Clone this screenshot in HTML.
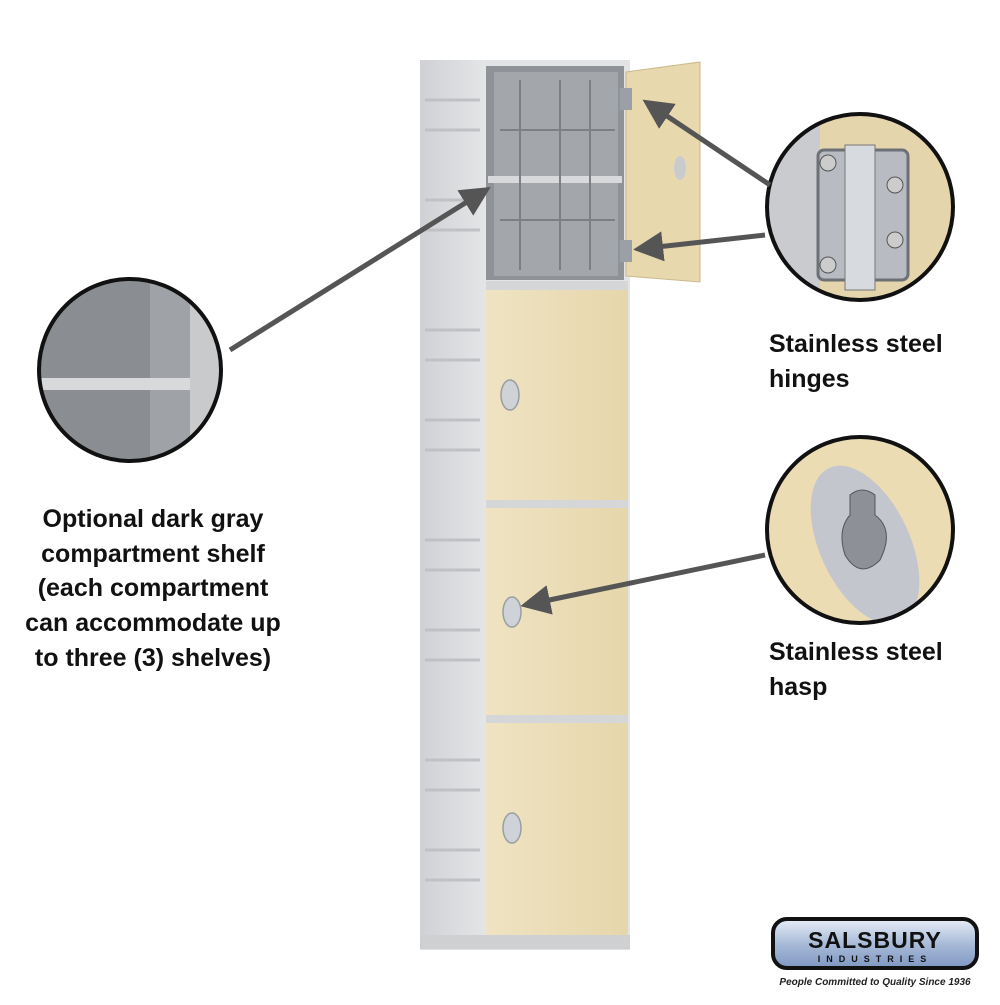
<!DOCTYPE html>
<html><head><meta charset="utf-8"><style>
html,body{margin:0;padding:0;background:#fff}
svg text{font-family:"Liberation Sans",sans-serif;font-weight:bold}
</style></head><body>
<svg width="1000" height="1000" viewBox="0 0 1000 1000" xmlns="http://www.w3.org/2000/svg">
<defs>
<linearGradient id="side" x1="0" x2="1"><stop offset="0" stop-color="#cfd1d4"/><stop offset="1" stop-color="#e4e5e7"/></linearGradient>
<linearGradient id="door" x1="0" x2="1"><stop offset="0" stop-color="#efe3c2"/><stop offset="1" stop-color="#e6d6ab"/></linearGradient>
<linearGradient id="logo" x1="0" y1="0" x2="0" y2="1"><stop offset="0" stop-color="#e8eef8"/><stop offset="0.5" stop-color="#a9bbd8"/><stop offset="1" stop-color="#7f97c2"/></linearGradient>
<marker id="ah" markerWidth="6" markerHeight="6" refX="3" refY="3" orient="auto" markerUnits="strokeWidth"><path d="M0,0 L6,3 L0,6 z" fill="#555"/></marker>
<clipPath id="c1"><circle cx="130" cy="370" r="90"/></clipPath>
<clipPath id="c2"><circle cx="860" cy="207" r="92"/></clipPath>
<clipPath id="c3"><circle cx="860" cy="530" r="92"/></clipPath>
</defs>
<!-- locker -->
<rect x="420" y="60" width="210" height="890" fill="#e2e3e5"/>
<rect x="420" y="60" width="66" height="878" fill="url(#side)"/>
<g stroke="#bfc1c4" stroke-width="3" fill="none">
<path d="M425 100 h55 M425 130 h55 M425 200 h55 M425 230 h55 M425 330 h55 M425 360 h55 M425 420 h55 M425 450 h55 M425 540 h55 M425 570 h55 M425 630 h55 M425 660 h55 M425 760 h55 M425 790 h55 M425 850 h55 M425 880 h55"/>
</g>
<rect x="486" y="66" width="138" height="214" fill="#8f9296"/>
<rect x="494" y="72" width="124" height="204" fill="#a3a6aa"/>
<rect x="488" y="176" width="134" height="7" fill="#d8d9db"/>
<g stroke="#7c7f83" stroke-width="2"><path d="M520 80v190 M560 80v190 M590 80v190 M500 130h115 M500 220h115"/></g>
<rect x="486" y="281" width="142" height="9" fill="#d5d6d8"/>
<rect x="486" y="290" width="142" height="210" fill="url(#door)"/>
<rect x="486" y="500" width="142" height="8" fill="#d5d6d8"/>
<rect x="486" y="508" width="142" height="207" fill="url(#door)"/>
<rect x="486" y="715" width="142" height="8" fill="#d5d6d8"/>
<rect x="486" y="723" width="142" height="212" fill="url(#door)"/>
<rect x="420" y="935" width="210" height="14" fill="#cfd0d2"/>
<g fill="#cfd2d6" stroke="#9a9da1" stroke-width="1.5">
<ellipse cx="510" cy="395" rx="9" ry="15"/><ellipse cx="512" cy="612" rx="9" ry="15"/><ellipse cx="512" cy="828" rx="9" ry="15"/>
</g>
<!-- open door -->
<path d="M626 72 L700 62 L700 282 L626 276 z" fill="#e8d8ae" stroke="#cbb98c"/>
<rect x="620" y="88" width="12" height="22" fill="#9aa0a6"/><rect x="620" y="240" width="12" height="22" fill="#9aa0a6"/>
<ellipse cx="680" cy="168" rx="6" ry="12" fill="#c9cbcf"/>
<!-- circles -->
<g clip-path="url(#c1)"><rect x="30" y="270" width="200" height="200" fill="#6f7276"/>
<rect x="40" y="270" width="190" height="200" fill="#8a8d91"/><rect x="150" y="280" width="40" height="190" fill="#9fa2a6"/>
<rect x="30" y="378" width="200" height="12" fill="#d8d9db"/><rect x="190" y="270" width="40" height="200" fill="#c9cacc"/></g>
<circle cx="130" cy="370" r="91" fill="none" stroke="#111" stroke-width="4"/>
<g clip-path="url(#c2)"><rect x="760" y="110" width="200" height="200" fill="#e4d5ad"/>
<rect x="760" y="110" width="60" height="200" fill="#c9cbcf"/>
<rect x="818" y="150" width="90" height="130" rx="6" fill="#b8bcc2" stroke="#6d7075" stroke-width="3"/>
<rect x="845" y="145" width="30" height="145" fill="#d7dade" stroke="#777"/>
<circle cx="828" cy="163" r="8" fill="#ccc" stroke="#555"/><circle cx="828" cy="265" r="8" fill="#ccc" stroke="#555"/>
<circle cx="895" cy="185" r="8" fill="#ccc" stroke="#555"/><circle cx="895" cy="240" r="8" fill="#ccc" stroke="#555"/></g>
<circle cx="860" cy="207" r="93" fill="none" stroke="#111" stroke-width="4"/>
<g clip-path="url(#c3)"><rect x="760" y="430" width="200" height="200" fill="#ecdcb4"/>
<ellipse cx="865" cy="545" rx="45" ry="85" transform="rotate(-25 865 545)" fill="#c3c7cd"/>
<path d="M850 495 q12 -10 25 0 v20 q20 15 5 45 q-20 20 -35 -5 q-8 -25 5 -40 z" fill="#8d9197" stroke="#555"/></g>
<circle cx="860" cy="530" r="93" fill="none" stroke="#111" stroke-width="4"/>
<!-- arrows -->
<g stroke="#555" stroke-width="5" fill="none" marker-end="url(#ah)">
<line x1="230" y1="350" x2="478" y2="195"/>
<line x1="770" y1="185" x2="655" y2="108"/>
<line x1="765" y1="235" x2="648" y2="248"/>
<line x1="765" y1="555" x2="535" y2="603"/>
</g>
<!-- text -->
<g font-size="25" fill="#111">
<text x="153" y="527" text-anchor="middle">Optional dark gray</text>
<text x="153" y="562" text-anchor="middle">compartment shelf</text>
<text x="153" y="596" text-anchor="middle">(each compartment</text>
<text x="153" y="631" text-anchor="middle">can accommodate up</text>
<text x="153" y="666" text-anchor="middle">to three (3) shelves)</text>
<text x="769" y="352">Stainless steel</text>
<text x="769" y="387">hinges</text>
<text x="769" y="660">Stainless steel</text>
<text x="769" y="695">hasp</text>
</g>
<!-- logo -->
<rect x="773" y="919" width="204" height="49" rx="14" fill="url(#logo)" stroke="#111" stroke-width="4"/>
<text x="875" y="948" text-anchor="middle" font-size="23" fill="#111" letter-spacing="1">SALSBURY</text>
<text x="875" y="962" text-anchor="middle" font-size="9" fill="#111" letter-spacing="6">INDUSTRIES</text>
<text x="875" y="985" text-anchor="middle" font-size="10" font-style="italic" font-weight="normal" fill="#222">People Committed to Quality Since 1936</text>
</svg>
</body></html>
